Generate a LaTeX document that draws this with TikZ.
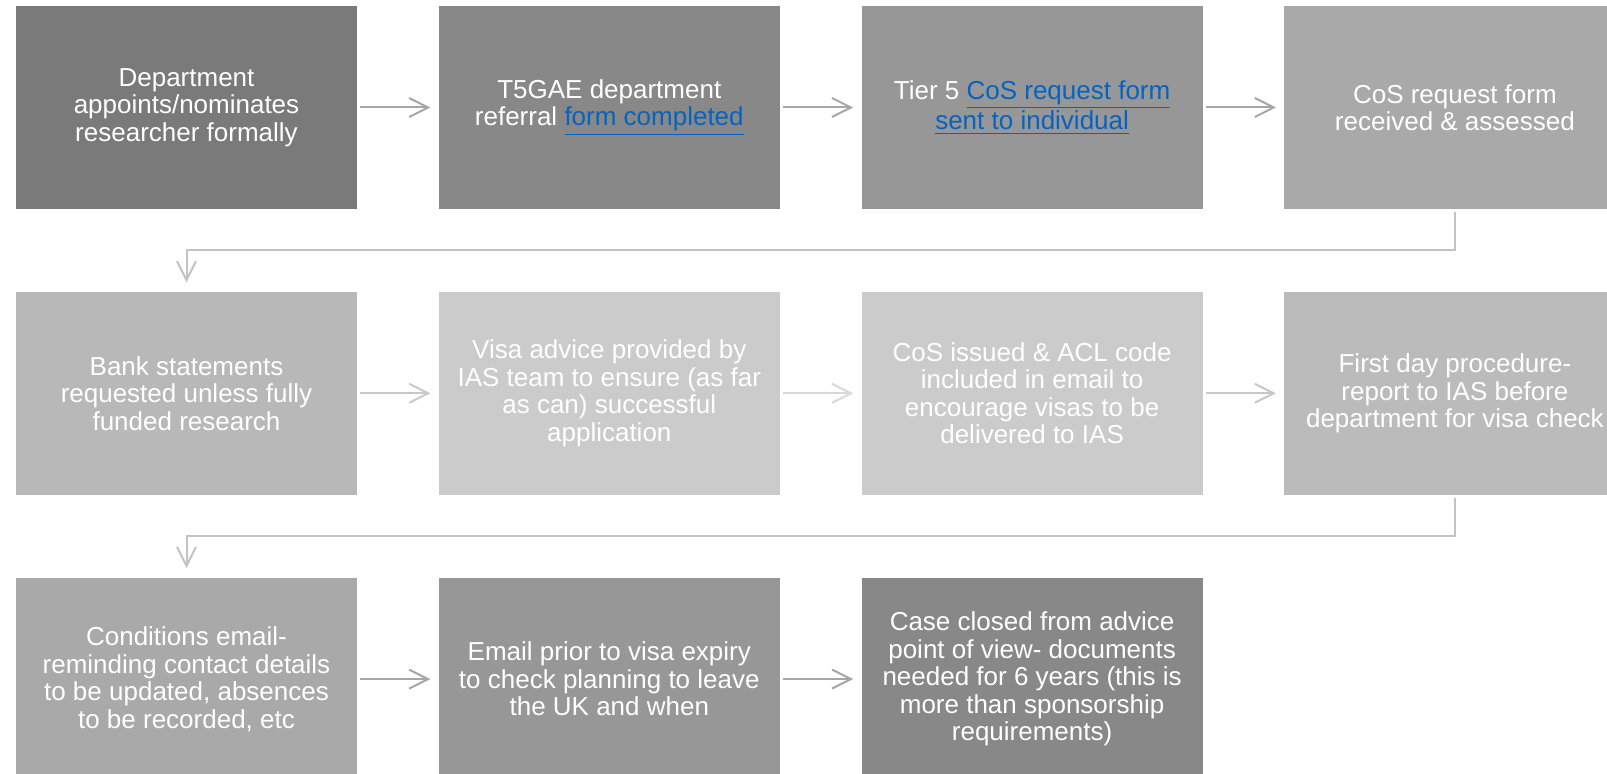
\documentclass[tikz,border=0pt]{standalone}
\usepackage{fontspec}
\setmainfont{Liberation Sans}
\usetikzlibrary{arrows.meta, positioning}
\definecolor{shade_1}{RGB}{122, 122, 122}
\definecolor{shade_2}{RGB}{136, 136, 136}
\definecolor{shade_3}{RGB}{151, 151, 151}
\definecolor{shade_4}{RGB}{169, 169, 169}
\definecolor{shade_5}{RGB}{184, 184, 184}
\definecolor{shade_6}{RGB}{203, 203, 203}
\definecolor{shade_7}{RGB}{187, 187, 187}
\definecolor{arrow_gray}{RGB}{166, 166, 166}
\definecolor{arrow_light}{RGB}{200, 200, 200}
\definecolor{arrow_pale}{RGB}{217, 217, 217}
\definecolor{elbow_gray}{RGB}{195, 195, 195}
\definecolor{link_blue}{RGB}{5, 99, 193}
\newcommand{\doclink}[1]{\textcolor{link_blue}{\underline{#1}}}

\begin{document}
\begin{tikzpicture}[
    % Node styles
    stepbox/.style={
        rectangle,
        fill=#1,
        text=white,
        minimum width=170.5pt,
        minimum height=101.5pt,
        inner sep=0pt,
        align=center,
        font=\fontsize{13}{13.75}\selectfont
    },
    arrow/.style={
        -{Straight Barb[length=9.5pt, width=9.5pt]},
        line width=1pt,
        shorten <=1.5pt,
        shorten >=4pt,
        #1
    },
    elbow/.style={
        -{Straight Barb[length=9.5pt, width=9.5pt]},
        line width=1pt,
        shorten <=1.5pt,
        shorten >=4.5pt,
        #1
    },
    node distance=41pt and 40.5pt
]
\useasboundingbox (0,0) rectangle (803.5pt,-387pt);

% Position nodes
\node[stepbox=shade_1] (appoint) at (93.25pt,-53.75pt) {Department\\appoints/nominates\\researcher formally};
\node[stepbox=shade_2, right=of appoint] (referral) {T5GAE department\\referral \doclink{form completed}};
\node[stepbox=shade_3, right=of referral] (request) {Tier 5 \doclink{CoS request form}\\\doclink{sent to individual}};
\node[stepbox=shade_4, right=of request] (assess) {CoS request form\\received \& assessed};

\node[stepbox=shade_5, below=of appoint] (bank) {Bank statements\\requested unless fully\\funded research};
\node[stepbox=shade_6, right=of bank] (advice) {Visa advice provided by\\IAS team to ensure (as far\\as can) successful\\application};
\node[stepbox=shade_6, right=of advice] (issue) {CoS issued \& ACL code\\included in email to\\encourage visas to be\\delivered to IAS};
\node[stepbox=shade_7, right=of issue] (firstday) {First day procedure-\\report to IAS before\\department for visa check};

\node[stepbox=shade_4, below=of bank] (conditions) {Conditions email-\\reminding contact details\\to be updated, absences\\to be recorded, etc};
\node[stepbox=shade_3, right=of conditions] (expiry) {Email prior to visa expiry\\to check planning to leave\\the UK and when};
\node[stepbox=shade_2, right=of expiry] (closed) {Case closed from advice\\point of view- documents\\needed for 6 years (this is\\more than sponsorship\\requirements)};

% Row arrows
\draw[arrow=arrow_gray] (appoint) -- (referral);
\draw[arrow=arrow_gray] (referral) -- (request);
\draw[arrow=arrow_gray] (request) -- (assess);

\draw[arrow=arrow_light] (bank) -- (advice);
\draw[arrow=arrow_pale] (advice) -- (issue);
\draw[arrow=arrow_light] (issue) -- (firstday);

\draw[arrow=arrow_gray] (conditions) -- (expiry);
\draw[arrow=arrow_gray] (expiry) -- (closed);

% Wrap to next row
\draw[elbow=elbow_gray] (assess.south) -- ++(0,-20.5pt) -| (bank.north);
\draw[elbow=elbow_gray] (firstday.south) -- ++(0,-20.5pt) -| (conditions.north);

\end{tikzpicture}
\end{document}
